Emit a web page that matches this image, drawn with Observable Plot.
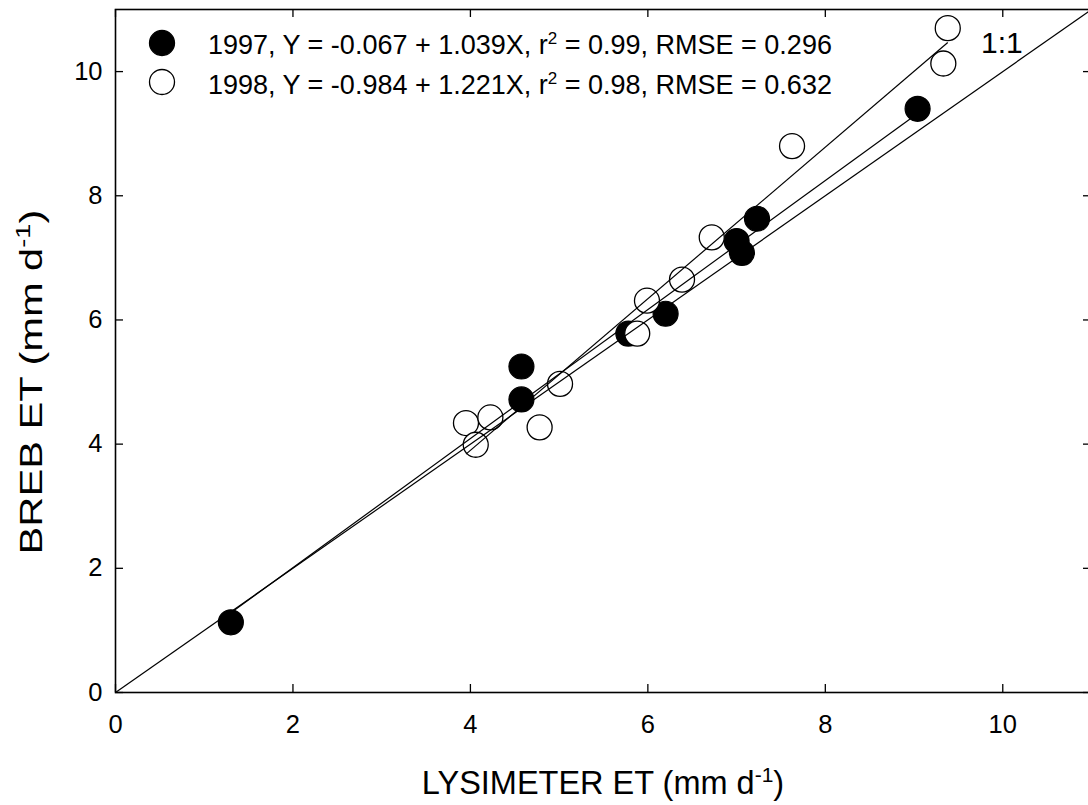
<!DOCTYPE html>
<html><head><meta charset="utf-8">
<script src="https://cdn.jsdelivr.net/npm/d3@7"></script>
<script src="https://cdn.jsdelivr.net/npm/@observablehq/plot@0.6"></script>
<style>body{margin:0;background:#fff} svg{display:block}</style>
</head><body><div id="chart"></div>
<script>
// ---- data ----
const lys1997  = [1.30, 4.575, 4.575, 5.78, 6.20, 7.00, 7.06, 7.23, 9.04];
const breb1997 = [1.13, 5.25, 4.72, 5.78, 6.10, 7.27, 7.08, 7.63, 9.40];
const lys1998  = [3.95, 4.06, 4.225, 4.78, 5.01, 5.88, 5.99, 6.385, 6.72, 7.625, 9.33, 9.38];
const breb1998 = [4.34, 3.99, 4.43, 4.27, 4.97, 5.78, 6.31, 6.65, 7.33, 8.80, 10.13, 10.70];
const years = ["1997", "1998"];
const intercepts = [-0.067, -0.984];
const slopes = [1.039, 1.221];
const r2 = ["0.99", "0.98"];
const rmse = ["0.296", "0.632"];
const xTicks = [0, 2, 4, 6, 8, 10];
const yTicks = [0, 2, 4, 6, 8, 10];
const axisDomain = [0, 11];

// ---- build tables ----
const d1997 = lys1997.map((x, i) => ({x, y: breb1997[i]}));
const d1998 = lys1998.map((x, i) => ({x, y: breb1998[i]}));
const fits = [d1997, d1998].map((d, i) => {
  const [x1, x2] = d3.extent(d, p => p.x);
  return {x1, x2, y1: intercepts[i] + slopes[i] * x1, y2: intercepts[i] + slopes[i] * x2};
});
const oneToOne = [{x1: axisDomain[0], y1: axisDomain[0], x2: axisDomain[1], y2: axisDomain[1]}];

// ---- layout ----
const W = 1088, H = 805;
const mL = 115, mT = 9, mR = -3, mB = 113;
const plotW = W - mL - mR, plotH = H - mT - mB;
const tickLen = 8;
const font = "'Liberation Sans', Arial, Helvetica, sans-serif";

const plot = Plot.plot({
  width: W, height: H,
  marginLeft: mL, marginTop: mT, marginRight: mR, marginBottom: mB,
  x: {domain: axisDomain},
  y: {domain: axisDomain},
  style: {fontFamily: font, fontSize: "25.5px", color: "black", background: "white"},
  marks: [
    Plot.axisX(xTicks, {tickSize: 0, tickPadding: 22, label: null, fontSize: 25.5, tickFormat: d => String(d)}),
    Plot.axisY(yTicks, {tickSize: 0, tickPadding: 13, label: null, fontSize: 25.5, tickFormat: d => String(d)}),
    Plot.tickX(xTicks, {x: d => d, insetTop: plotH - tickLen, stroke: "black", strokeWidth: 1.3}),
    Plot.tickX(xTicks, {x: d => d, insetBottom: plotH - tickLen, stroke: "black", strokeWidth: 1.3}),
    Plot.tickY(yTicks, {y: d => d, insetRight: plotW - tickLen, stroke: "black", strokeWidth: 1.3}),
    Plot.tickY(yTicks, {y: d => d, insetLeft: plotW - tickLen, stroke: "black", strokeWidth: 1.3}),
    Plot.dot(d1997, {x: "x", y: "y", r: 12.5, fill: "black", stroke: "black", strokeWidth: 1.2}),
    Plot.dot(d1998, {x: "x", y: "y", r: 12.5, fill: "white", stroke: "black", strokeWidth: 1.3}),
    Plot.link(oneToOne, {x1: "x1", y1: "y1", x2: "x2", y2: "y2", stroke: "black", strokeWidth: 1.2}),
    Plot.link(fits, {x1: "x1", y1: "y1", x2: "x2", y2: "y2", stroke: "black", strokeWidth: 1.2}),
    Plot.frame({stroke: "black", strokeWidth: 1.6})
  ]
});
document.getElementById("chart").appendChild(plot);

// ---- labels with superscripts ----
const svg = d3.select(plot);
const xs = plot.scale("x"), ys = plot.scale("y");

function supText(sel, before, sup, after, supSize, rise) {
  sel.append("tspan").text(before);
  sel.append("tspan").attr("font-size", supSize).attr("dy", -rise).text(sup);
  sel.append("tspan").attr("dy", rise).text(after);
}

const xl = svg.append("text")
  .attr("x", mL + plotW / 2).attr("y", 794)
  .attr("text-anchor", "middle").attr("font-size", 32.5).attr("font-family", font).attr("fill", "black");
supText(xl, "LYSIMETER ET (mm d", "-1", ")", 21, 12);

const yl = svg.append("text")
  .attr("transform", `translate(42,382) rotate(-90) scale(1.3,1)`)
  .attr("text-anchor", "middle").attr("font-size", 32).attr("font-family", font).attr("fill", "black");
supText(yl, "BREB ET (mm d", "-1", ")", 21, 12);

// legend
const legY = [43, 82];
const legBase = [54, 94];
years.forEach((yr, i) => {
  svg.append("circle").attr("cx", 162).attr("cy", legY[i]).attr("r", 12.5)
    .attr("fill", i === 0 ? "black" : "white").attr("stroke", "black").attr("stroke-width", 1.3);
  const t = svg.append("text").attr("x", 208).attr("y", legBase[i])
    .attr("text-anchor", "start")
    .attr("font-size", 27).attr("font-family", font).attr("fill", "black");
  supText(t, `${yr}, Y = ${intercepts[i].toFixed(3)} + ${slopes[i].toFixed(3)}X, r`, "2",
    ` = ${r2[i]}, RMSE = ${rmse[i]}`, 17, 10);
});

// 1:1 annotation
svg.append("text").attr("x", xs.apply(9.76)).attr("y", 53).attr("text-anchor", "start")
  .attr("font-size", 30).attr("font-family", font).attr("fill", "black").text("1:1");
</script>
</body></html>
